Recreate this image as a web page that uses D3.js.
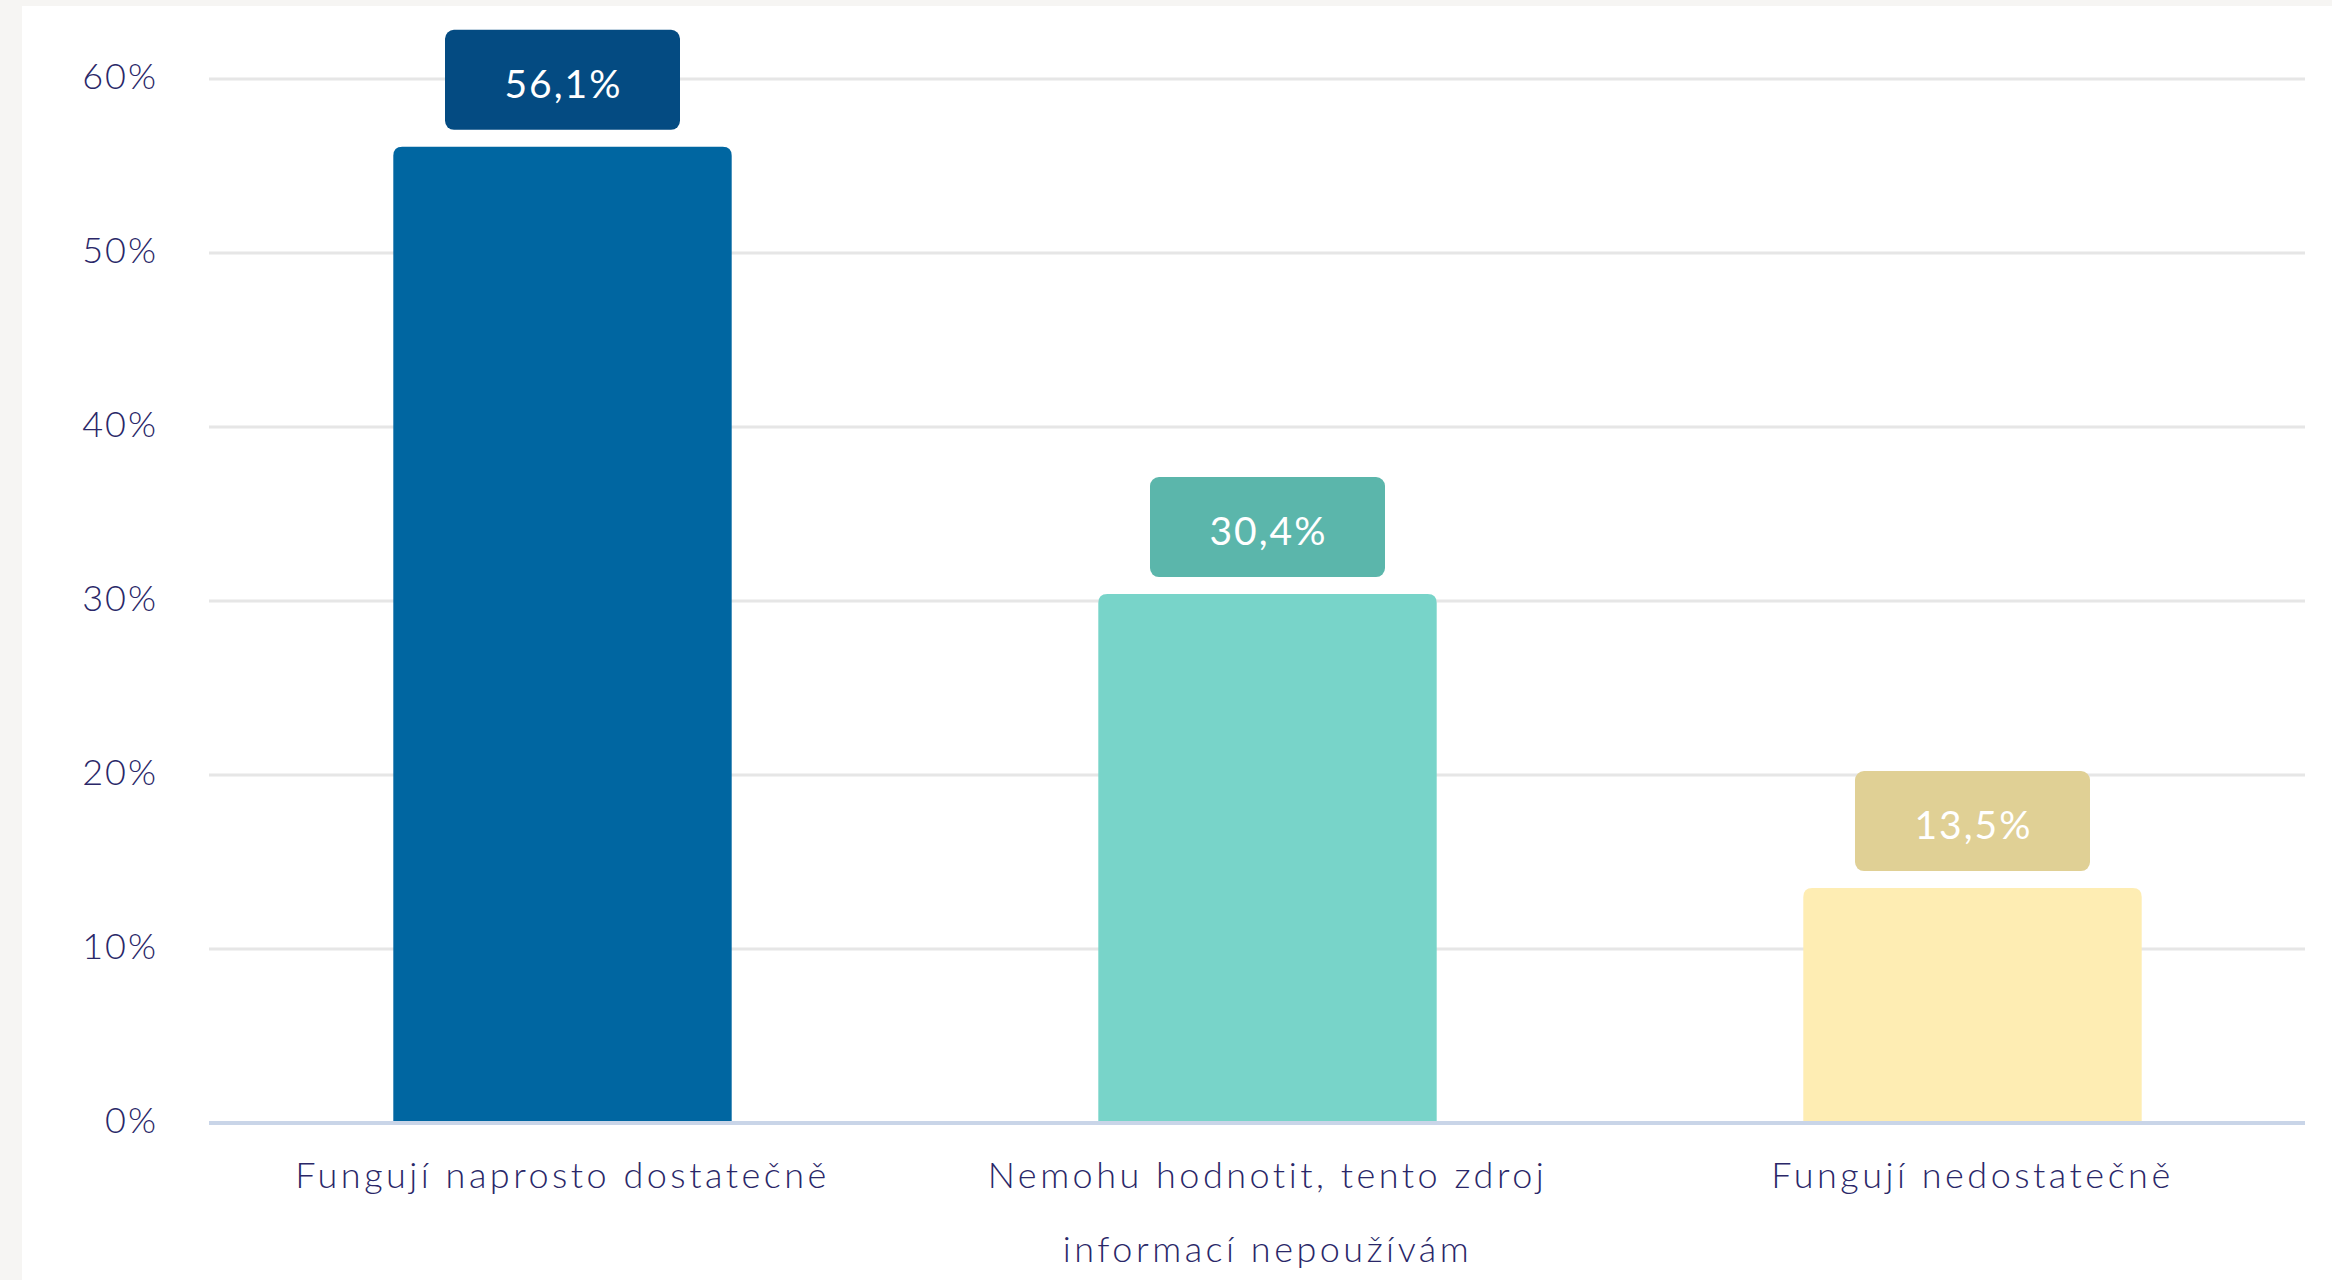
<!DOCTYPE html>
<html>
<head>
<meta charset="utf-8">
<script src="https://cdn.jsdelivr.net/npm/d3@7"></script>
<style>
  html, body { margin: 0; padding: 0; background: #f6f5f3; }
  svg { display: block; }
  text { font-family: Lato, "Open Sans", sans-serif; }
</style>
</head>
<body>
<div class="chart"></div>
<script>
// data
var categories = ["Fungují naprosto dostatečně", "Nemohu hodnotit, tento zdroj informací nepoužívám", "Fungují nedostatečně"];
var values = [56.1, 30.4, 13.5];
var barColors = ["#0066a1", "#78d4c9", "#feedb3"];
var boxColors = ["#044b82", "#5bb6ab", "#e0d095"];
var yTicks = [0, 10, 20, 30, 40, 50, 60];

var width = 2332, height = 1280;
var margin = { top: 79, left: 209, right: 8, bottom: 157 };

var svg = d3.select("div.chart")
  .append("svg")
  .attr("width", width)
  .attr("height", height);

// white card
svg.append("rect")
  .attr("x", 22).attr("y", 6)
  .attr("width", width - 22).attr("height", height - 6)
  .attr("fill", "#ffffff");

var y = d3.scaleLinear()
  .domain([0, 60])
  .range([height - margin.bottom, margin.top]);

var x = d3.scaleBand()
  .domain(categories)
  .range([margin.left + 1, 2325])
  .paddingInner(0.52)
  .paddingOuter(0.26);

var gridEnd = 2305;

// grid lines
svg.append("g")
  .selectAll("line")
  .data(yTicks.filter(function (d) { return d > 0; }))
  .enter().append("line")
  .attr("x1", margin.left).attr("x2", gridEnd)
  .attr("y1", function (d) { return y(d); })
  .attr("y2", function (d) { return y(d); })
  .style("stroke", "#e6e6e6")
  .style("stroke-width", 3);

// y axis labels
var yAxis = svg.append("g")
  .attr("transform", "translate(158,-2)")
  .call(d3.axisLeft(y).tickValues(yTicks).tickSize(0).tickFormat(function (d) { return d + "%"; }));
yAxis.select(".domain").remove();
yAxis.selectAll("text")
  .attr("x", 0)
  .style("font-size", "36px")
  .style("font-weight", 300)
  .style("letter-spacing", "2px")
  .style("fill", "#2a2768")
  .style("font-family", "Lato, sans-serif");

// bars with rounded top corners
var r = 9;
function barPath(d, i) {
  var x0 = x(categories[i]), x1 = x0 + x.bandwidth();
  var yt = y(d), yb = y(0);
  return "M" + x0 + "," + yb +
    "V" + (yt + r) +
    "Q" + x0 + "," + yt + " " + (x0 + r) + "," + yt +
    "H" + (x1 - r) +
    "Q" + x1 + "," + yt + " " + x1 + "," + (yt + r) +
    "V" + yb + "Z";
}
svg.append("g")
  .selectAll("path")
  .data(values)
  .enter().append("path")
  .attr("d", barPath)
  .style("fill", function (d, i) { return barColors[i]; });

// baseline
svg.append("line")
  .attr("x1", margin.left).attr("x2", gridEnd)
  .attr("y1", y(0)).attr("y2", y(0))
  .style("stroke", "#c9d5e8")
  .style("stroke-width", 4);

// value boxes
var boxW = 235, boxH = 100, gap = 17;
var boxes = svg.append("g")
  .selectAll("g")
  .data(values)
  .enter().append("g")
  .attr("transform", function (d, i) {
    var cx = x(categories[i]) + x.bandwidth() / 2;
    return "translate(" + (cx - boxW / 2) + "," + (y(d) - gap - boxH) + ")";
  });
boxes.append("rect")
  .attr("width", boxW).attr("height", boxH)
  .attr("rx", 9).attr("ry", 9)
  .style("fill", function (d, i) { return boxColors[i]; });
boxes.append("text")
  .attr("x", boxW / 2 + 1).attr("y", boxH / 2 + 4)
  .attr("text-anchor", "middle")
  .attr("dy", "0.35em")
  .style("font-size", "39px")
  .style("letter-spacing", "2px")
  .style("fill", "#ffffff")
  .text(function (d) { return d.toFixed(1).replace(".", ",") + "%"; });

// x axis labels with wrapping
var xLabels = svg.append("g")
  .selectAll("text")
  .data(categories)
  .enter().append("text")
  .attr("text-anchor", "middle")
  .attr("x", function (d) { return x(d) + x.bandwidth() / 2; })
  .attr("y", 1175)
  .style("font-size", "36px")
  .style("font-weight", 300)
  .style("letter-spacing", "3.5px")
  .style("fill", "#2a2768");

xLabels.each(function (d) {
  var el = d3.select(this);
  var words = d.split(" "), line = [];
  var cx = +el.attr("x");
  var tspan = el.append("tspan").attr("x", cx).attr("dy", "0.35em");
  words.forEach(function (w) {
    line.push(w);
    tspan.text(line.join(" "));
    if (tspan.node().getComputedTextLength() > 640 && line.length > 1) {
      line.pop();
      tspan.text(line.join(" "));
      line = [w];
      tspan = el.append("tspan").attr("x", cx).attr("dy", 74).text(w);
    }
  });
});
</script>
</body>
</html>
